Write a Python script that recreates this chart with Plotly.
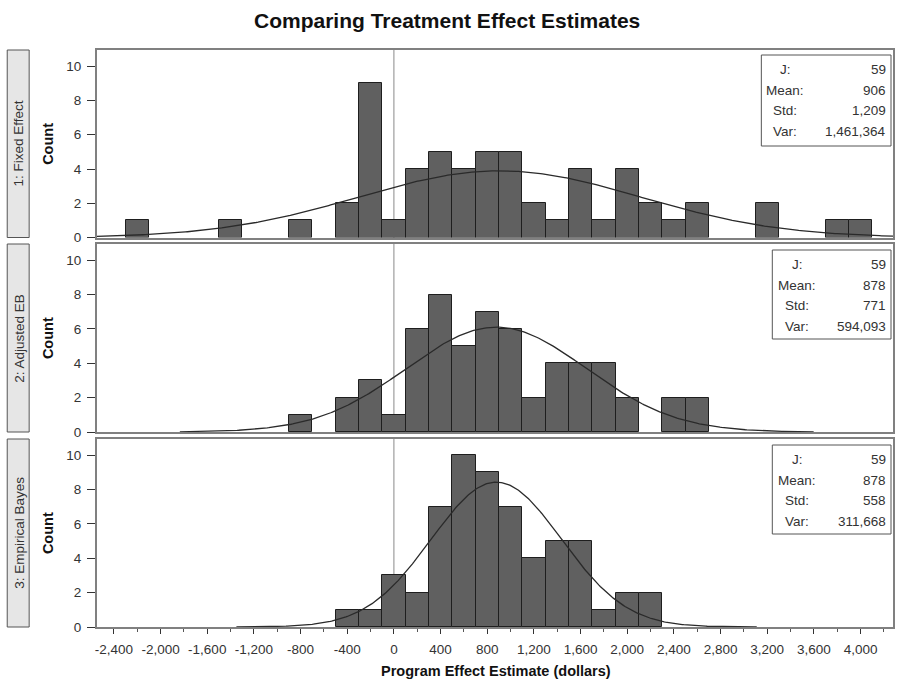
import numpy as np
import plotly.graph_objects as go

# ---------------- data ----------------
panel_names = ["1: Fixed Effect", "2: Adjusted EB", "3: Empirical Bayes"]

bin_centers = [-2200, -2000, -1800, -1600, -1400, -1200, -1000, -800, -600, -400, -200,
               0, 200, 400, 600, 800, 1000, 1200, 1400, 1600, 1800, 2000, 2200, 2400,
               2600, 2800, 3000, 3200, 3400, 3600, 3800, 4000]

counts_fixed = [1, 0, 0, 0, 1, 0, 0, 1, 0, 2, 9,
                1, 4, 5, 4, 5, 5, 2, 1, 4, 1, 4, 2, 1,
                2, 0, 0, 2, 0, 0, 1, 1]
counts_adj = [0, 0, 0, 0, 0, 0, 0, 1, 0, 2, 3,
              1, 6, 8, 5, 7, 6, 2, 4, 4, 4, 2, 0, 2,
              2, 0, 0, 0, 0, 0, 0, 0]
counts_eb = [0, 0, 0, 0, 0, 0, 0, 0, 0, 1, 1,
             3, 2, 7, 10, 9, 7, 4, 5, 5, 1, 2, 2, 0,
             0, 0, 0, 0, 0, 0, 0, 0]
all_counts = [counts_fixed, counts_adj, counts_eb]

bin_width = 200
n_j = [59, 59, 59]
means = [906, 878, 878]
stds = [1209, 771, 558]

stat_labels = ["J:", "Mean:", "Std:", "Var:"]
stat_values = [["59", "906", "1,209", "1,461,364"],
               ["59", "878", "771", "594,093"],
               ["59", "878", "558", "311,668"]]

# normal-curve drawing spans (dollars)
curve_lo = [-2600, -1835, -1350]
curve_hi = [4300, 3598, 3110]

x_tickvals = [-2400, -2000, -1600, -1200, -800, -400, 0, 400, 800, 1200, 1600,
              2000, 2400, 2800, 3200, 3600, 4000]
x_ticktext = ["-2,400", "-2,000", "-1,600", "-1,200", "-800", "-400", "0", "400", "800",
              "1,200", "1,600", "2,000", "2,400", "2,800", "3,200", "3,600", "4,000"]
y_tickvals = [0, 2, 4, 6, 8, 10]

# ---------------- layout geometry ----------------
W, H = 897, 682
ML, MR, MT, MB = 97, 2, 50, 55
PW = W - ML - MR
PH = H - MT - MB


def xp(px):
    return (px - ML) / PW


def yp(py):
    return (H - MB - py) / PH


panel_px = [(50, 237.5), (244, 432), (439, 627)]
domains = [[yp(b), yp(t)] for (t, b) in panel_px]

FONT = "Arial, Liberation Sans, sans-serif"
TXT = "#333333"
FRAME = "#808080"
TICKFS = 13.5

fig = go.Figure()
shapes = []
annotations = []

for i in range(3):
    xa = "x" if i == 0 else f"x{i+1}"
    ya = "y" if i == 0 else f"y{i+1}"
    bx = [c for c, n in zip(bin_centers, all_counts[i]) if n > 0]
    by = [n for n in all_counts[i] if n > 0]
    fig.add_trace(go.Bar(
        x=bx, y=by, width=bin_width,
        marker=dict(color="#606060", line=dict(color="#1e1e1e", width=1)),
        xaxis=xa, yaxis=ya, showlegend=False, hoverinfo="x+y"))
    xs = np.linspace(curve_lo[i], curve_hi[i], 400)
    ys = n_j[i] * bin_width * np.exp(-0.5 * ((xs - means[i]) / stds[i]) ** 2) / (stds[i] * np.sqrt(2 * np.pi))
    fig.add_trace(go.Scatter(x=xs, y=ys, mode="lines",
                             line=dict(color="#2a2a2a", width=1.3),
                             xaxis=xa, yaxis=ya, showlegend=False, hoverinfo="skip"))

    # zero reference line
    shapes.append(dict(type="line", xref=xa, yref=f"{ya} domain", x0=0, x1=0, y0=0, y1=1,
                       line=dict(color="#8a8a8a", width=1), layer="below"))

    # strip on the left
    t, b = panel_px[i]
    shapes.append(dict(type="rect", xref="paper", yref="paper",
                       x0=xp(7), x1=xp(29), y0=yp(b), y1=yp(t),
                       fillcolor="#e6e6e6", line=dict(color="#555555", width=1)))
    annotations.append(dict(xref="paper", yref="paper", x=xp(18.5), y=yp((t + b) / 2),
                            xanchor="center", yanchor="middle",
                            text=panel_names[i], textangle=-90, showarrow=False,
                            font=dict(family=FONT, size=13.5, color=TXT)))
    annotations.append(dict(xref="paper", yref="paper", x=xp(48), y=yp((t + b) / 2),
                            xanchor="center", yanchor="middle",
                            text="<b>Count</b>", textangle=-90, showarrow=False,
                            font=dict(family=FONT, size=14.5, color="#111111")))

    # stats box
    if i == 0:
        bx0, bx1, by0, by1, lab_x = 763, 893, 55, 146, 787
    else:
        bx0, bx1, by0, by1, lab_x = 774, 893, t + 6, t + 95, 799
    shapes.append(dict(type="rect", xref="paper", yref="paper",
                       x0=xp(bx0), x1=xp(bx1), y0=yp(by1), y1=yp(by0),
                       fillcolor="white", line=dict(color="#555555", width=1)))
    row_y0 = by0 + 14.5
    for r in range(4):
        ry = row_y0 + 20.7 * r
        annotations.append(dict(xref="paper", yref="paper", x=xp(lab_x), y=yp(ry),
                                text=stat_labels[r], showarrow=False, xanchor="center",
                                yanchor="middle", font=dict(family=FONT, size=TICKFS, color=TXT)))
        annotations.append(dict(xref="paper", yref="paper", x=xp(889.5), y=yp(ry),
                                text=stat_values[i][r], showarrow=False, xanchor="right",
                                yanchor="middle", font=dict(family=FONT, size=TICKFS, color=TXT)))

# titles
annotations.append(dict(xref="paper", yref="paper", x=xp(448), y=yp(21),
                        text="<b>Comparing Treatment Effect Estimates</b>", showarrow=False,
                        xanchor="center", yanchor="middle",
                        font=dict(family=FONT, size=21, color="#111111")))
annotations.append(dict(xref="paper", yref="paper", x=xp(497), y=yp(671),
                        text="<b>Program Effect Estimate (dollars)</b>", showarrow=False,
                        xanchor="center", yanchor="middle",
                        font=dict(family=FONT, size=14.5, color="#111111")))

layout = dict(
    width=W, height=H,
    margin=dict(l=ML, r=MR, t=MT, b=MB),
    paper_bgcolor="white", plot_bgcolor="white",
    bargap=0, showlegend=False,
    shapes=shapes, annotations=annotations,
)

for i in range(3):
    xk = "xaxis" if i == 0 else f"xaxis{i+1}"
    yk = "yaxis" if i == 0 else f"yaxis{i+1}"
    ya = "y" if i == 0 else f"y{i+1}"
    xa = "x" if i == 0 else f"x{i+1}"
    bottom = (i == 2)
    xax = dict(domain=[0, 1], anchor=ya, range=[-2545, 4278],
               showgrid=False, zeroline=False, showline=True, mirror=True,
               linecolor=FRAME, linewidth=2,
               tickfont=dict(family=FONT, size=TICKFS, color=TXT))
    if i > 0:
        xax["matches"] = "x"
    if bottom:
        xax.update(tickmode="array", tickvals=x_tickvals, ticktext=x_ticktext,
                   ticks="outside", ticklen=5, tickwidth=1, tickcolor="#333333",
                   showticklabels=True, ticklabelstandoff=4,
                   minor=dict(ticks="outside", ticklen=3, dtick=200, tick0=0,
                              tickcolor="#555555", tickwidth=1, showgrid=False))
    else:
        xax.update(showticklabels=False, ticks="")
    layout[xk] = xax
    layout[yk] = dict(domain=domains[i], anchor=xa, range=[0, 10.95],
                      tickmode="array", tickvals=y_tickvals,
                      ticks="outside", ticklen=8, tickwidth=1, tickcolor="#333333",
                      ticklabelstandoff=3,
                      showgrid=False, zeroline=False, showline=True, mirror=True,
                      linecolor=FRAME, linewidth=2,
                      tickfont=dict(family=FONT, size=TICKFS, color=TXT))

fig.update_layout(**layout)
fig.write_html("out.html")
